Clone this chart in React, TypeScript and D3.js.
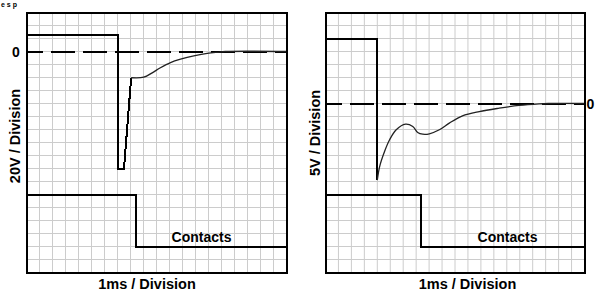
import React from "react";
import * as d3 from "d3";

// ---- data (units: divisions; y relative to the 0 V reference) ----
const divisions = d3.range(0, 21);

const leftStep: [number, number][] = [[0, 1.3], [7, 1.3], [7, -9], [7.5, -9], [8.05, -2.02]];
const leftCurve: [number, number][] = [
  [8.05, -2.02], [9.02, -1.98], [9.67, -1.64], [10.3, -1.25], [11.08, -0.85],
  [11.85, -0.59], [12.87, -0.33], [13.9, -0.15], [14.67, -0.06], [15.3, 0], [20, 0],
];
const leftContacts: [number, number][] = [[0, -11], [8.4, -11], [8.4, -15], [20, -15]];

const rightStep: [number, number][] = [[0, 5], [4, 5], [4, -5.9]];
const rightCurve: [number, number][] = [
  [4, -5.9], [4.18, -4.85], [4.56, -3.69], [4.95, -2.79], [5.46, -2.02], [6.18, -1.59],
  [6.74, -1.77], [7.12, -2.23], [7.51, -2.36], [8.02, -2.33], [8.79, -2.02], [9.56, -1.51],
  [10.58, -0.95], [11.87, -0.62], [13.41, -0.36], [14.95, -0.15], [16.5, -0.03], [17.2, 0], [20, 0],
];
const rightContacts: [number, number][] = [[0, -7], [7.4, -7], [7.4, -11], [20, -11]];

const FONT = "'Liberation Sans', Arial, sans-serif";

type Panel = {
  x0: number; x1: number; yTop: number; yBottom: number;
  step: [number, number][]; curve: [number, number][]; contacts: [number, number][];
  yLabel: string; yLabelX: number; yLabelY: number;
  zeroX: number; xLabelX: number; contactsX: number;
};

const panels: Panel[] = [
  {
    x0: 26.5, x1: 286.5, yTop: 3, yBottom: -17,
    step: leftStep, curve: leftCurve, contacts: leftContacts,
    yLabel: "20V / Division", yLabelX: 15, yLabelY: 136,
    zeroX: 16, xLabelX: 147, contactsX: 201.5,
  },
  {
    x0: 325.5, x1: 584.5, yTop: 7, yBottom: -13,
    step: rightStep, curve: rightCurve, contacts: rightContacts,
    yLabel: "5V / Division", yLabelX: 315, yLabelY: 133,
    zeroX: 590.5, xLabelX: 467.5, contactsX: 507.5,
  },
];

function Scope({ p }: { p: Panel }) {
  const x = d3.scaleLinear().domain([0, 20]).range([p.x0, p.x1]);
  const y = d3.scaleLinear().domain([p.yTop, p.yBottom]).range([12.5, 272.5]);
  const lin = d3.line<[number, number]>().x(d => x(d[0])).y(d => y(d[1]));
  const smooth = d3.line<[number, number]>().x(d => x(d[0])).y(d => y(d[1])).curve(d3.curveCatmullRom);
  const [yMin, yMax] = [12.5, 272.5];
  return (
    <g>
      {divisions.map(i => (
        <line key={"v" + i} x1={x(i)} x2={x(i)} y1={yMin} y2={yMax} stroke="#cccccc" strokeWidth={1} />
      ))}
      {divisions.map(i => (
        <line key={"h" + i} x1={p.x0} x2={p.x1} y1={y(p.yTop - i)} y2={y(p.yTop - i)} stroke="#cccccc" strokeWidth={1} />
      ))}
      <line x1={p.x0} x2={p.x1} y1={y(0)} y2={y(0)} stroke="#000" strokeWidth={2}
        strokeDasharray="24 8" strokeDashoffset={8} shapeRendering="crispEdges" />
      <path d={lin(p.contacts) || ""} fill="none" stroke="#000" strokeWidth={2} shapeRendering="crispEdges" />
      <path d={lin(p.step) || ""} fill="none" stroke="#000" strokeWidth={2} strokeLinejoin="miter" shapeRendering="crispEdges" />
      <path d={smooth(p.curve) || ""} fill="none" stroke="#222" strokeWidth={1.3} />
      <rect x={p.x0} y={yMin} width={p.x1 - p.x0} height={yMax - yMin} fill="none" stroke="#000" strokeWidth={2} shapeRendering="crispEdges" />
      <text x={p.zeroX} y={y(0)} dominantBaseline="central" textAnchor="middle"
        fontFamily={FONT} fontWeight="bold" fontSize={14}>0</text>
      <text transform={`translate(${p.yLabelX},${p.yLabelY}) rotate(-90)`} dominantBaseline="central"
        textAnchor="middle" fontFamily={FONT} fontWeight="bold" fontSize={14.5}>{p.yLabel}</text>
      <text x={p.xLabelX} y={284} dominantBaseline="central" textAnchor="middle"
        fontFamily={FONT} fontWeight="bold" fontSize={14.5}>1ms / Division</text>
      <text x={p.contactsX} y={242} textAnchor="middle"
        fontFamily={FONT} fontWeight="bold" fontSize={14}>Contacts</text>
    </g>
  );
}

export default function App() {
  return (
    <svg width={616} height={296} style={{ position: "absolute", left: 0, top: 0, background: "#fff" }}>
      <rect width={616} height={296} fill="#fff" />
      <text x={1} y={7} fontFamily={FONT} fontSize={7} fontWeight="bold" textLength={16}>esp</text>
      {panels.map((p, i) => <Scope key={i} p={p} />)}
    </svg>
  );
}
